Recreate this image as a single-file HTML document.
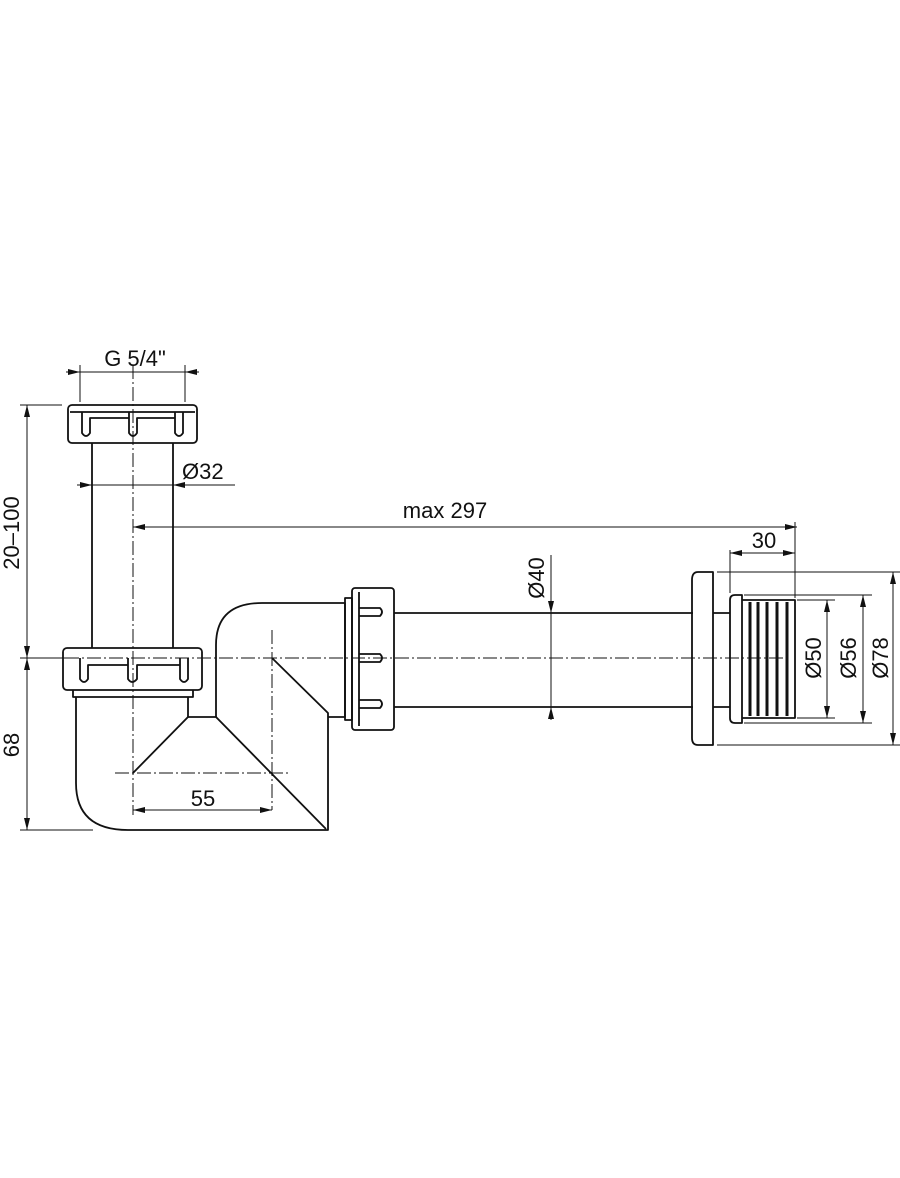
<!DOCTYPE html>
<html><head><meta charset="utf-8"><style>
html,body{margin:0;padding:0;background:#fff;}
svg{display:block;}
text{font-family:"Liberation Sans",sans-serif;font-size:22px;fill:#111;}
</style></head><body>
<svg width="900" height="1178" viewBox="0 0 900 1178" xmlns="http://www.w3.org/2000/svg">
<defs>
<marker id="a" viewBox="0 0 12 6" refX="12" refY="3" markerWidth="12" markerHeight="6" orient="auto-start-reverse" markerUnits="userSpaceOnUse">
<path d="M0,0 L12,3 L0,6 z" fill="#111"/></marker>
</defs>
<g fill="none" stroke="#111" stroke-width="1.8" stroke-linejoin="round">
<!-- top nut -->
<rect x="68" y="405" width="129" height="38" rx="4"/>
<path d="M70,412 H195"/>
<path d="M82,412 V433 Q86,439 90,433 V418 H129 M129,412 V433 Q133,439 137,433 V418 H175 M175,412 V433 Q179,439 183,433 V412"/>
<!-- upper pipe -->
<path d="M92,443 V648 M173,443 V648"/>
<!-- bottom nut -->
<rect x="63" y="648" width="139" height="42" rx="4"/>
<path d="M80,658 V679 Q84,685 88,679 V665 H128 M128,658 V679 Q132,685 137,679 V665 H180 M180,658 V679 Q184,685 188,679 V658"/>
<path d="M73,690 V697 H193 V690"/>
<!-- lower body -->
<path d="M76,697 V783 Q76,830 128,830 H328 V713 L272,658"/>
<path d="M188,697 V717 H216 L326,829"/>
<path d="M188,717 L133,773"/>
<!-- elbow -->
<path d="M216,717 V645 Q216,603 262,603 H345 V717 H328"/>
<!-- coupling -->
<rect x="345" y="598" width="7" height="122"/>
<rect x="352" y="588" width="42" height="142" rx="3"/>
<path d="M359,592 V726 M359,608 H380 Q384,612 380,616 H359 M359,654 H380 Q384,658 380,662 H359 M359,700 H380 Q384,704 380,708 H359"/>
<!-- pipe -->
<path d="M394,613 H693 M394,707 H693"/>
<!-- flange -->
<path d="M698,572 H713 V745 H698 Q692,745 692,738 V580 Q692,572 698,572 Z"/>
<path d="M713,613 H730 M713,707 H730"/>
<!-- collar + thread -->
<path d="M735,595 H742 V723 H735 Q730,723 730,718 V600 Q730,595 735,595 Z"/>
<path d="M742,600 H795 V718 H742"/>
</g>
<g stroke="#111" stroke-width="3">
<path d="M750,602 V716 M758,602 V716 M767,602 V716 M777,602 V716 M787,602 V716"/>
</g>
<!-- centerlines -->
<g stroke="#111" stroke-width="1" fill="none" stroke-dasharray="14 3 2 3">
<path d="M133,365 V815"/>
<path d="M272,630 V810"/>
<path d="M65,658 H790"/>
<path d="M115,773 H290"/>
</g>
<!-- dimensions -->
<g stroke="#111" stroke-width="1" fill="none">
<path d="M20,658 H65"/>
<path d="M20,405 H62"/>
<path d="M20,830 H93"/>
<path d="M27,405 V658" marker-start="url(#a)" marker-end="url(#a)"/>
<path d="M27,658 V830" marker-start="url(#a)" marker-end="url(#a)"/>
<path d="M80,365 V402 M185,365 V402"/>
<path d="M66,372 H80" marker-end="url(#a)"/>
<path d="M199,372 H185" marker-end="url(#a)"/>
<path d="M80,372 H185"/>
<path d="M77,485 H92" marker-end="url(#a)"/>
<path d="M235,485 H173" marker-end="url(#a)"/>
<path d="M92,485 H173"/>
<path d="M133,527 H797" marker-start="url(#a)" marker-end="url(#a)"/>
<path d="M133,810 H272" marker-start="url(#a)" marker-end="url(#a)"/>
<path d="M551,555 V613" marker-end="url(#a)"/>
<path d="M551,720 V707" marker-end="url(#a)"/>
<path d="M551,613 V707"/>
<path d="M730,550 V593 M795,522 V598"/>
<path d="M730,553 H795" marker-start="url(#a)" marker-end="url(#a)"/>
<path d="M797,600 H835 M797,718 H835"/>
<path d="M827,600 V718" marker-start="url(#a)" marker-end="url(#a)"/>
<path d="M744,595 H872 M744,723 H872"/>
<path d="M863,595 V723" marker-start="url(#a)" marker-end="url(#a)"/>
<path d="M717,572 H900 M717,745 H900"/>
<path d="M893,572 V745" marker-start="url(#a)" marker-end="url(#a)"/>
</g>
<!-- labels -->
<text x="135" y="366" text-anchor="middle">G 5/4"</text>
<text x="182" y="479">Ø32</text>
<text x="445" y="518" text-anchor="middle">max 297</text>
<text x="764" y="548" text-anchor="middle">30</text>
<text x="203" y="806" text-anchor="middle">55</text>
<text transform="translate(19,533) rotate(-90)" text-anchor="middle">20–100</text>
<text transform="translate(19,745) rotate(-90)" text-anchor="middle">68</text>
<text transform="translate(544,578) rotate(-90)" text-anchor="middle">Ø40</text>
<text transform="translate(821,658) rotate(-90)" text-anchor="middle">Ø50</text>
<text transform="translate(856,658) rotate(-90)" text-anchor="middle">Ø56</text>
<text transform="translate(888,658) rotate(-90)" text-anchor="middle">Ø78</text>
</svg>
</body></html>
